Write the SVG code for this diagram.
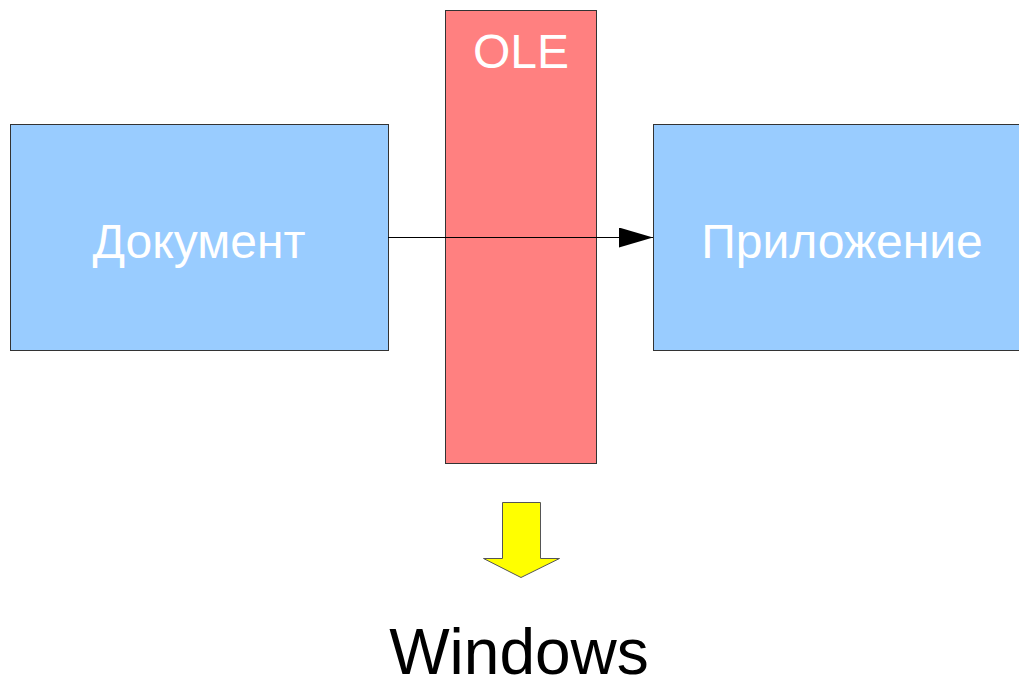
<svg xmlns="http://www.w3.org/2000/svg" width="1019" height="677" viewBox="0 0 1019 677">
<style>
.box{fill:#99ccff;stroke:#333;stroke-width:1}
.ole{fill:#ff8080;stroke:#333;stroke-width:1}
.lbl{font-family:"Liberation Sans",Arial,sans-serif;font-size:48px;fill:#fff;text-anchor:middle}
.win{font-family:"Liberation Sans",Arial,sans-serif;font-size:64px;fill:#000;text-anchor:middle}
</style>
<defs>
<marker id="ah" markerWidth="34" markerHeight="20" refX="34" refY="10" orient="auto" markerUnits="userSpaceOnUse">
<path d="M0,0 L34,10 L0,20 Z" fill="#000"/>
</marker>
</defs>
<rect width="1019" height="677" fill="#fff"/>
<g id="doc">
<rect class="box" x="10.5" y="124.5" width="378" height="226"/>
<text class="lbl" x="199" y="258">Документ</text>
</g>
<g id="app">
<rect class="box" x="653.5" y="124.5" width="378" height="226"/>
<text class="lbl" x="842" y="258">Приложение</text>
</g>
<g id="ole">
<rect class="ole" x="445.5" y="10.5" width="151" height="453"/>
<text class="lbl" x="521" y="68">OLE</text>
</g>
<g id="connectors">
<line x1="388" y1="237.5" x2="653" y2="237.5" stroke="#000" stroke-width="1" marker-end="url(#ah)"/>
</g>
<g id="down">
<path d="M502.5,502.5 L540.5,502.5 L540.5,558.5 L559.5,558.5 L521,577.5 L483.5,558.5 L502.5,558.5 Z" fill="#ffff00" stroke="#555" stroke-width="1"/>
</g>
<g id="windows">
<text class="win" x="519" y="674">Windows</text>
</g>
</svg>
